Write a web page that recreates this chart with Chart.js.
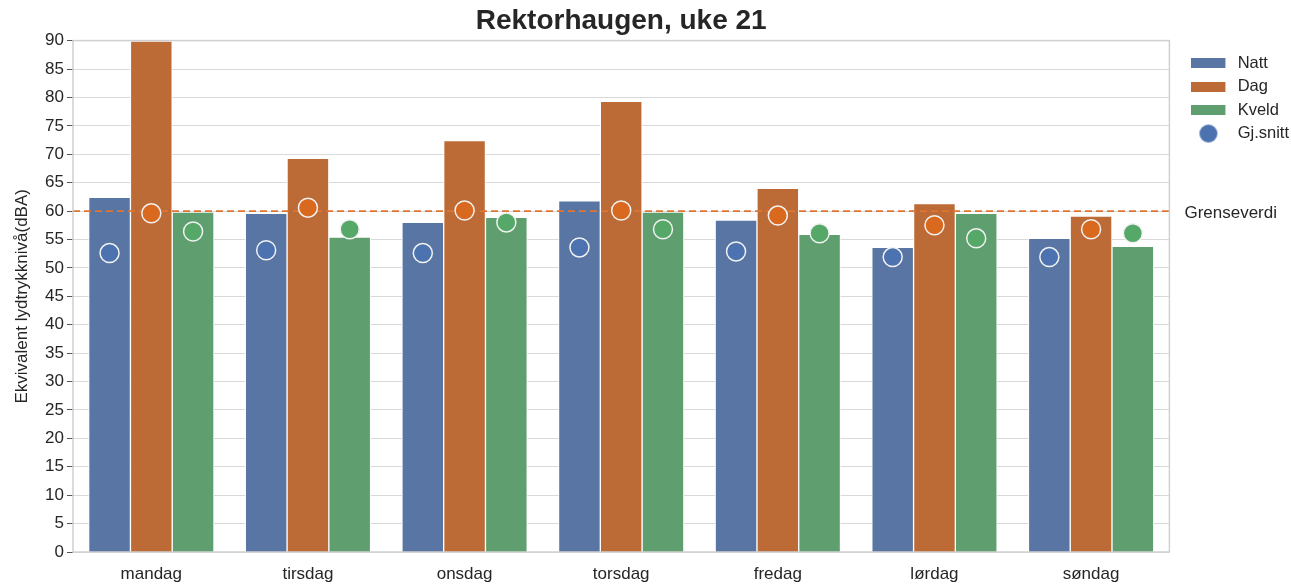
<!DOCTYPE html>
<html>
<head>
<meta charset="utf-8">
<script src="https://cdn.jsdelivr.net/npm/chart.js@4.4.1/dist/chart.umd.min.js"></script>
<style>
  html, body { margin: 0; padding: 0; background: #fff; }
  #wrap { width: 1291px; height: 584px; }
</style>
</head>
<body>
<div id="wrap"><canvas id="chart" width="1291" height="584"></canvas></div>
<script>
// Dager i uke 21
var dager = ['mandag', 'tirsdag', 'onsdag', 'torsdag', 'fredag', 'lørdag', 'søndag'];

// Søyler (dBA)
var natt = [62.4, 59.6, 58.0, 61.8, 58.4, 53.6, 55.2];
var dag = [89.9, 69.3, 72.4, 79.3, 64.0, 61.3, 59.1];
var kveld = [59.8, 55.4, 58.9, 59.8, 55.9, 59.6, 53.8];

// Gjennomsnitt (punkter)
var snittNatt = [52.6, 53.1, 52.6, 53.6, 52.9, 51.9, 51.9];
var snittDag = [59.6, 60.6, 60.1, 60.1, 59.2, 57.5, 56.8];
var snittKveld = [56.4, 56.8, 58.0, 56.8, 56.1, 55.2, 56.1];

var grenseverdi = 60;
var yTicks = { min: 0, max: 90, step: 5 };

var fontFam = '"Liberation Sans", Arial, sans-serif';

// tre søyler per dag, hver 0.8/3 av dagens bredde
var w = 0.8 / 3;
function plassert(verdier, offset) {
    return verdier.map(function (v, i) { return { x: i + offset, y: v }; });
}

// legendesymboler (litt bredere lerret så teksten får luft)
function legendeBoks(farge) {
    var c = document.createElement('canvas');
    c.width = 38; c.height = 10;
    var g = c.getContext('2d');
    g.fillStyle = farge;
    g.fillRect(0, 0, 34, 10);
    return c;
}
function legendeSirkel(farge) {
    var c = document.createElement('canvas');
    c.width = 38; c.height = 20;
    var g = c.getContext('2d');
    g.beginPath();
    g.arc(17, 10, 9, 0, Math.PI * 2);
    g.fillStyle = farge;
    g.fill();
    return c;
}

var rammePlugin = {
    id: 'ramme',
    afterDraw: function (chart) {
        var ctx = chart.ctx, a = chart.chartArea;
        ctx.save();
        ctx.strokeStyle = '#d0d0d0';
        ctx.lineWidth = 1.5;
        ctx.strokeRect(a.left, a.top, a.right - a.left, a.bottom - a.top);
        // Grenseverdi-tekst
        var y = chart.scales.y.getPixelForValue(grenseverdi);
        ctx.fillStyle = '#262626';
        ctx.font = '17px ' + fontFam;
        ctx.textBaseline = 'middle';
        ctx.fillText('Grenseverdi', a.right + 15, y + 2);
        ctx.restore();
    }
};

var soyle = { borderColor: '#ffffff', borderWidth: 1, grouped: false, barPercentage: 1, categoryPercentage: 1, order: 3 };
var snittStil = { type: 'line', showLine: false, borderColor: '#f2f2f2', borderWidth: 1.5, pointRadius: 9.5, pointHoverRadius: 9.5, pointBorderWidth: 1.5, order: 1 };

var ctx = document.getElementById('chart').getContext('2d');
window.lydChart = new Chart(ctx, {
    type: 'bar',
    data: {
        datasets: [
            Object.assign({ label: 'Natt', data: plassert(natt, -w), backgroundColor: '#5975a4', pointStyle: legendeBoks('#5975a4') }, soyle),
            Object.assign({ label: 'Dag', data: plassert(dag, 0), backgroundColor: '#bd6b36', pointStyle: legendeBoks('#bd6b36') }, soyle),
            Object.assign({ label: 'Kveld', data: plassert(kveld, w), backgroundColor: '#5f9e6e', pointStyle: legendeBoks('#5f9e6e') }, soyle),
            {
                type: 'line', label: 'Grenseverdi',
                data: [{ x: -0.5, y: grenseverdi }, { x: 6.5, y: grenseverdi }],
                borderColor: '#dd7533', borderWidth: 1.8, borderDash: [7, 4],
                pointRadius: 0, fill: false, order: 2
            },
            Object.assign({ label: 'Gj.snitt', data: plassert(snittNatt, -w), backgroundColor: '#4c72b0', pointBackgroundColor: '#4c72b0' }, snittStil),
            Object.assign({ label: 'snittDag', data: plassert(snittDag, 0), backgroundColor: '#d8691f', pointBackgroundColor: '#d8691f' }, snittStil),
            Object.assign({ label: 'snittKveld', data: plassert(snittKveld, w), backgroundColor: '#55a868', pointBackgroundColor: '#55a868' }, snittStil)
        ]
    },
    options: {
        responsive: false,
        animation: false,
        layout: { padding: { top: 0, right: -8, bottom: 0, left: 10 } },
        plugins: {
            title: {
                display: true,
                text: 'Rektorhaugen, uke 21',
                fullSize: false,
                color: '#262626',
                font: { family: fontFam, size: 28, weight: 'bold' },
                padding: { top: 4, bottom: 3 }
            },
            legend: {
                position: 'right',
                align: 'start',
                fullSize: false,
                title: { display: true, text: '', font: { size: 1 }, padding: { top: 3, bottom: 3 } },
                labels: {
                    usePointStyle: true,
                    pointStyleWidth: 38,
                    boxHeight: 10,
                    padding: 7,
                    color: '#262626',
                    font: { family: fontFam, size: 16.5 },
                    sort: function (a, b) { return a.datasetIndex - b.datasetIndex; },
                    generateLabels: function (chart) {
                        var items = Chart.defaults.plugins.legend.labels.generateLabels(chart);
                        items = items.filter(function (it) { return [0, 1, 2, 4].indexOf(it.datasetIndex) >= 0; });
                        items.forEach(function (it) {
                            if (it.datasetIndex === 4) { it.pointStyle = legendeSirkel('#4c72b0'); }
                            it.lineWidth = 0;
                        });
                        return items;
                    }
                }
            },
            tooltip: { enabled: false }
        },
        scales: {
            x: {
                type: 'linear',
                min: -0.5,
                max: 6.5,
                offset: false,
                grid: { display: false },
                border: { display: false },
                afterBuildTicks: function (s) {
                    s.ticks = dager.map(function (d, i) { return { value: i }; });
                },
                ticks: {
                    color: '#262626',
                    font: { family: fontFam, size: 17 },
                    padding: 4,
                    autoSkip: false,
                    maxRotation: 0,
                    callback: function (v) { return dager[v]; }
                },
                afterFit: function (s) { s.height = 32; }
            },
            yGap: {
                position: 'right',
                grid: { display: false },
                border: { display: false },
                ticks: { display: false },
                afterFit: function (s) { s.width = 15; }
            },
            y: {
                min: yTicks.min,
                max: yTicks.max,
                ticks: { stepSize: yTicks.step, color: '#262626', font: { family: fontFam, size: 17 }, padding: 3 },
                grid: { color: '#d9d9d9', lineWidth: 1, tickLength: 6, tickColor: '#555' },
                border: { display: false },
                title: {
                    display: true,
                    text: 'Ekvivalent lydtrykknivå(dBA)',
                    color: '#262626',
                    font: { family: fontFam, size: 17 },
                    padding: { top: 2, bottom: 2 }
                },
                afterFit: function (s) { s.width = 63; }
            }
        }
    },
    plugins: [rammePlugin]
});
</script>
</body>
</html>
